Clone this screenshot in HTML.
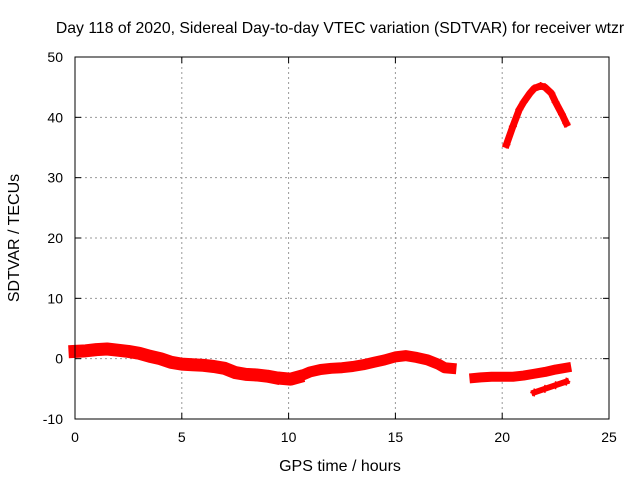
<!DOCTYPE html>
<html><head><meta charset="utf-8"><style>
body{margin:0;background:#fff;}
svg{display:block;font-family:"Liberation Sans",sans-serif;}
</style></head><body>
<svg id="chart" width="640" height="480" xmlns="http://www.w3.org/2000/svg">
<text x="340" y="33" font-size="15.8" text-anchor="middle">Day 118 of 2020, Sidereal Day-to-day VTEC variation (SDTVAR) for receiver wtzr</text>
<text x="340" y="471" font-size="16" text-anchor="middle">GPS time / hours</text>
<text transform="translate(19,238) rotate(-90)" font-size="16" text-anchor="middle">SDTVAR / TECUs</text>
<g id="grid"></g><g id="marks"></g><g id="axes"></g>
</svg>
<script>
const xTicks=[0,5,10,15,20,25];
const yTicks=[-10,0,10,20,30,40,50];
const seriesA=[[0,1.2],[0.5,1.3],[1,1.5],[1.5,1.6],[2,1.4],[2.5,1.2],[3,0.9],[3.5,0.4],[4,0],[4.5,-0.6],[5,-0.9],[5.5,-1.0],[6,-1.1],[6.5,-1.3],[7,-1.6],[7.5,-2.3],[8,-2.6],[8.5,-2.7],[9,-2.9],[9.3,-3.1]];
const seriesB=[[9.8,-3.3],[10.1,-3.4],[10.4,-3.1]];
const seriesC=[[10.6,-2.8],[11,-2.2],[11.5,-1.8],[12,-1.6],[12.5,-1.5],[13,-1.3],[13.5,-1.0],[14,-0.6],[14.5,-0.2],[15,0.3],[15.5,0.5],[16,0.2],[16.5,-0.2],[17,-0.9],[17.3,-1.5],[17.6,-1.6]];
const seriesD=[[18.7,-3.2],[19,-3.1],[19.5,-3.0],[20,-3.0],[20.5,-3.0],[21,-2.8],[21.5,-2.5],[22,-2.2],[22.5,-1.8],[23,-1.5]];
const seriesE=[[21.5,-5.6],[22,-5.0],[22.5,-4.4],[23,-3.8]];
const seriesF=[[20.2,35.5],[20.5,38.5],[20.8,41.3],[21,42.5],[21.3,44],[21.5,44.8],[21.8,45.2],[22,45],[22.3,44],[22.5,42.5],[22.8,40.5],[23,39]];
const X0=75,X1=609,Y0=419,Y1=57;
const xs=h=>X0+(h-0)/25*(X1-X0);
const ys=v=>Y0-(v+10)/60*(Y0-Y1);
const NS="http://www.w3.org/2000/svg";
function mk(tag,attrs,parent){const e=document.createElementNS(NS,tag);for(const k in attrs)e.setAttribute(k,attrs[k]);parent.appendChild(e);return e;}
const grid=document.getElementById('grid'),axes=document.getElementById('axes'),marks=document.getElementById('marks');
xTicks.forEach(t=>{
 if(t>0&&t<25){const g=mk('line',{x1:xs(t),x2:xs(t),y1:Y0,y2:Y1,stroke:'#999','stroke-dasharray':'2,3'},grid);
 
 }
 const l=mk('text',{x:xs(t),y:Y0+23,'font-size':14,'text-anchor':'middle'},axes);l.textContent=t;
 
 
 mk('line',{x1:xs(t),x2:xs(t),y1:Y0,y2:Y0-6,stroke:'#000'},axes);
 mk('line',{x1:xs(t),x2:xs(t),y1:Y1,y2:Y1+6,stroke:'#000'},axes);
});
yTicks.forEach(t=>{
 if(t>-10&&t<50){const g=mk('line',{x1:X0,x2:X1,y1:ys(t),y2:ys(t),stroke:'#999','stroke-dasharray':'2,3'},grid);
 
 }
 const l=mk('text',{x:X0-12,y:ys(t)+5,'font-size':14,'text-anchor':'end'},axes);l.textContent=t;
 
 
 mk('line',{x1:X0,x2:X0+6,y1:ys(t),y2:ys(t),stroke:'#000'},axes);
 mk('line',{x1:X1,x2:X1-6,y1:ys(t),y2:ys(t),stroke:'#000'},axes);
});
const frame=mk('rect',{x:X0,y:Y1,width:X1-X0,height:Y0-Y1,fill:'none',stroke:'#000'},axes);


function draw(s,name,w){
 const pts=s.map(p=>xs(p[0])+','+ys(p[1])).join(' ');
 const pl=mk('polyline',{points:pts,fill:'none',stroke:'#f00','stroke-width':w,'stroke-linejoin':'round','stroke-linecap':'square'},marks);
 
 
 s.forEach(p=>{const x=xs(p[0]),y=ys(p[1]);
  mk('path',{d:`M${x-4},${y}h8M${x},${y-4}v8`,stroke:'#f00','stroke-width':1.5},marks);});
}
draw(seriesA,'series-main-early',13);
draw(seriesB,'series-cluster-10h',13);
draw(seriesC,'series-main-mid',11);
draw(seriesD,'series-late-band',10);
draw(seriesE,'series-late-lower',6);
draw(seriesF,'series-arc',7);
</script>
</body></html>
